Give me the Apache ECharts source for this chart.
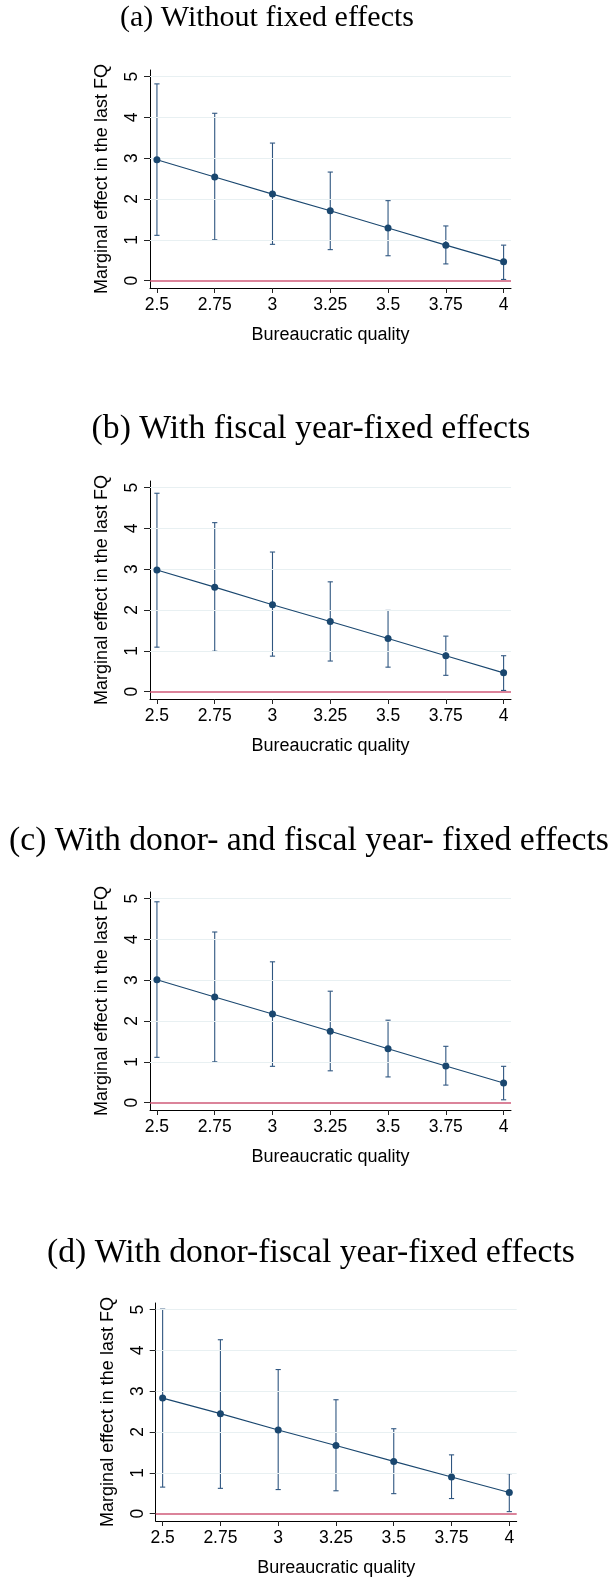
<!DOCTYPE html>
<html>
<head>
<meta charset="utf-8">
<script src="https://cdn.jsdelivr.net/npm/echarts@6/dist/echarts.min.js"></script>
<style>
  html, body { margin: 0; padding: 0; background: #ffffff; }
  #chart { width: 609px; height: 1579px; }
</style>
</head>
<body>
<div id="chart"></div>
<script>
// Bureaucratic quality values at which the marginal effect is evaluated
const bureaucraticQuality = [2.5, 2.75, 3, 3.25, 3.5, 3.75, 4];
const xTickLabels = ['2.5', '2.75', '3', '3.25', '3.5', '3.75', '4'];
const yTicks = [0, 1, 2, 3, 4, 5];

const panelTitles = [
  '(a) Without fixed effects',
  '(b) With fiscal year-fixed effects',
  '(c) With donor- and fiscal year- fixed effects',
  '(d) With donor-fiscal year-fixed effects'
];

// (a) Without fixed effects
const effectA = [2.96, 2.54, 2.12, 1.71, 1.29, 0.87, 0.46];
const lowerA  = [1.11, 1.00, 0.89, 0.76, 0.61, 0.41, 0.03];
const upperA  = [4.82, 4.10, 3.37, 2.66, 1.96, 1.34, 0.87];

// (b) With fiscal year-fixed effects
const effectB = [2.98, 2.56, 2.13, 1.72, 1.30, 0.88, 0.46];
const lowerB  = [1.09, 0.99, 0.87, 0.75, 0.60, 0.40, 0.03];
const upperB  = [4.86, 4.14, 3.42, 2.69, 1.99, 1.36, 0.88];

// (c) With donor- and fiscal year- fixed effects
const effectC = [3.01, 2.59, 2.17, 1.75, 1.32, 0.90, 0.48];
const lowerC  = [1.11, 1.00, 0.89, 0.78, 0.63, 0.43, 0.07];
const upperC  = [4.92, 4.18, 3.45, 2.73, 2.02, 1.38, 0.89];

// (d) With donor-fiscal year-fixed effects
const effectD = [2.83, 2.45, 2.05, 1.67, 1.28, 0.90, 0.52];
const lowerD  = [0.65, 0.62, 0.59, 0.56, 0.49, 0.37, 0.05];
const upperD  = [5.01, 4.26, 3.53, 2.79, 2.08, 1.44, 0.98];

const panels = [
  { effect: effectA, lower: lowerA, upper: upperA },
  { effect: effectB, lower: lowerB, upper: upperB },
  { effect: effectC, lower: lowerC, upper: upperC },
  { effect: effectD, lower: lowerD, upper: upperD }
];

// Layout of the four stacked panels (title centre x, title top, plot box)
const layout = [
  { left: 150,   top: 70,   titleX: 262, titleTop: -2,   titleSize: 30 },
  { left: 150,   top: 481,  titleX: 306, titleTop: 407,  titleSize: 33.7 },
  { left: 150,   top: 892,  titleX: 304, titleTop: 819,  titleSize: 33.7 },
  { left: 155.7, top: 1303, titleX: 306, titleTop: 1231, titleSize: 33.7 }
];
const plotWidth = 361;
const plotHeight = 218;

const navy = '#1a476f';
const zeroLineColor = '#cf5a79';
const gridColor = '#e8f0f2';
const sans = 'Liberation Sans, Arial, sans-serif';

const chart = echarts.init(document.getElementById('chart'), null, { renderer: 'canvas' });

const option = {
  backgroundColor: '#ffffff',
  animation: false,
  title: [],
  grid: [],
  xAxis: [],
  yAxis: [],
  series: []
};

panels.forEach((p, i) => {
  const L = layout[i];
  option.title.push({
    text: panelTitles[i],
    left: L.titleX,
    top: L.titleTop,
    textAlign: 'center',
    textStyle: {
      fontFamily: 'Liberation Serif, Times New Roman, serif',
      fontSize: L.titleSize,
      fontWeight: 'normal',
      color: '#000000'
    }
  });
  option.grid.push({
    left: L.left,
    top: L.top,
    width: plotWidth,
    height: plotHeight,
    containLabel: false,
    outerBoundsMode: 'none'
  });
  option.xAxis.push({
    type: 'value',
    gridIndex: i,
    min: 2.47,
    max: 4.032,
    name: 'Bureaucratic quality',
    nameLocation: 'middle',
    nameGap: 38,
    nameTextStyle: { fontFamily: sans, fontSize: 18, color: '#000000' },
    axisLine: { show: true, onZero: false, lineStyle: { color: '#000000', width: 1 } },
    axisTick: { show: true, length: 5, customValues: bureaucraticQuality, lineStyle: { color: '#222222' } },
    axisLabel: {
      customValues: bureaucraticQuality,
      margin: 8,
      fontFamily: sans,
      fontSize: 17.5,
      color: '#000000',
      formatter: v => xTickLabels[bureaucraticQuality.indexOf(v)] ?? String(v)
    },
    splitLine: { show: false }
  });
  option.yAxis.push({
    type: 'value',
    gridIndex: i,
    min: -0.18,
    max: 5.16,
    name: 'Marginal effect in the last FQ',
    nameLocation: 'middle',
    nameGap: 39,
    nameTextStyle: { fontFamily: sans, fontSize: 18, color: '#000000' },
    axisLine: { show: true, onZero: false, lineStyle: { color: '#000000', width: 1 } },
    axisTick: { show: true, length: 6, customValues: yTicks, lineStyle: { color: '#222222' } },
    axisLabel: {
      customValues: yTicks,
      rotate: 90,
      margin: 9,
      fontFamily: sans,
      fontSize: 17.5,
      color: '#000000'
    },
    splitLine: { show: false }
  });

  // Horizontal grid lines at the labelled ticks
  option.series.push({
    type: 'line',
    xAxisIndex: i,
    yAxisIndex: i,
    data: [],
    silent: true,
    markLine: {
      silent: true,
      symbol: 'none',
      label: { show: false },
      lineStyle: { color: gridColor, type: 'solid', width: 1 },
      data: yTicks.filter(t => t > 0).map(t => ({ yAxis: t }))
    }
  });
  // Reference line at zero
  option.series.push({
    type: 'line',
    xAxisIndex: i,
    yAxisIndex: i,
    data: [],
    silent: true,
    z: 3,
    markLine: {
      silent: true,
      symbol: 'none',
      label: { show: false },
      lineStyle: { color: zeroLineColor, type: 'solid', width: 1.6 },
      data: [{ yAxis: 0 }]
    }
  });

  // Confidence intervals drawn as capped vertical bars
  option.series.push({
    type: 'custom',
    xAxisIndex: i,
    yAxisIndex: i,
    z: 4,
    data: bureaucraticQuality.map((x, k) => [x, p.lower[k], p.upper[k]]),
    renderItem: (params, api) => {
      const x = api.value(0);
      const lo = api.coord([x, api.value(1)]);
      const hi = api.coord([x, api.value(2)]);
      const cap = 2.6;
      const style = { stroke: '#2f5680', lineWidth: 1.1 };
      return {
        type: 'group',
        children: [
          { type: 'line', shape: { x1: lo[0], y1: lo[1], x2: hi[0], y2: hi[1] }, style },
          { type: 'line', shape: { x1: lo[0] - cap, y1: lo[1], x2: lo[0] + cap, y2: lo[1] }, style },
          { type: 'line', shape: { x1: hi[0] - cap, y1: hi[1], x2: hi[0] + cap, y2: hi[1] }, style }
        ]
      };
    }
  });

  // Point estimates connected by a line
  option.series.push({
    type: 'line',
    xAxisIndex: i,
    yAxisIndex: i,
    z: 5,
    data: bureaucraticQuality.map((x, k) => [x, p.effect[k]]),
    symbol: 'circle',
    symbolSize: 7,
    showSymbol: true,
    lineStyle: { color: navy, width: 1.1 },
    itemStyle: { color: navy, borderWidth: 0 }
  });
});

chart.setOption(option);
</script>
</body>
</html>
